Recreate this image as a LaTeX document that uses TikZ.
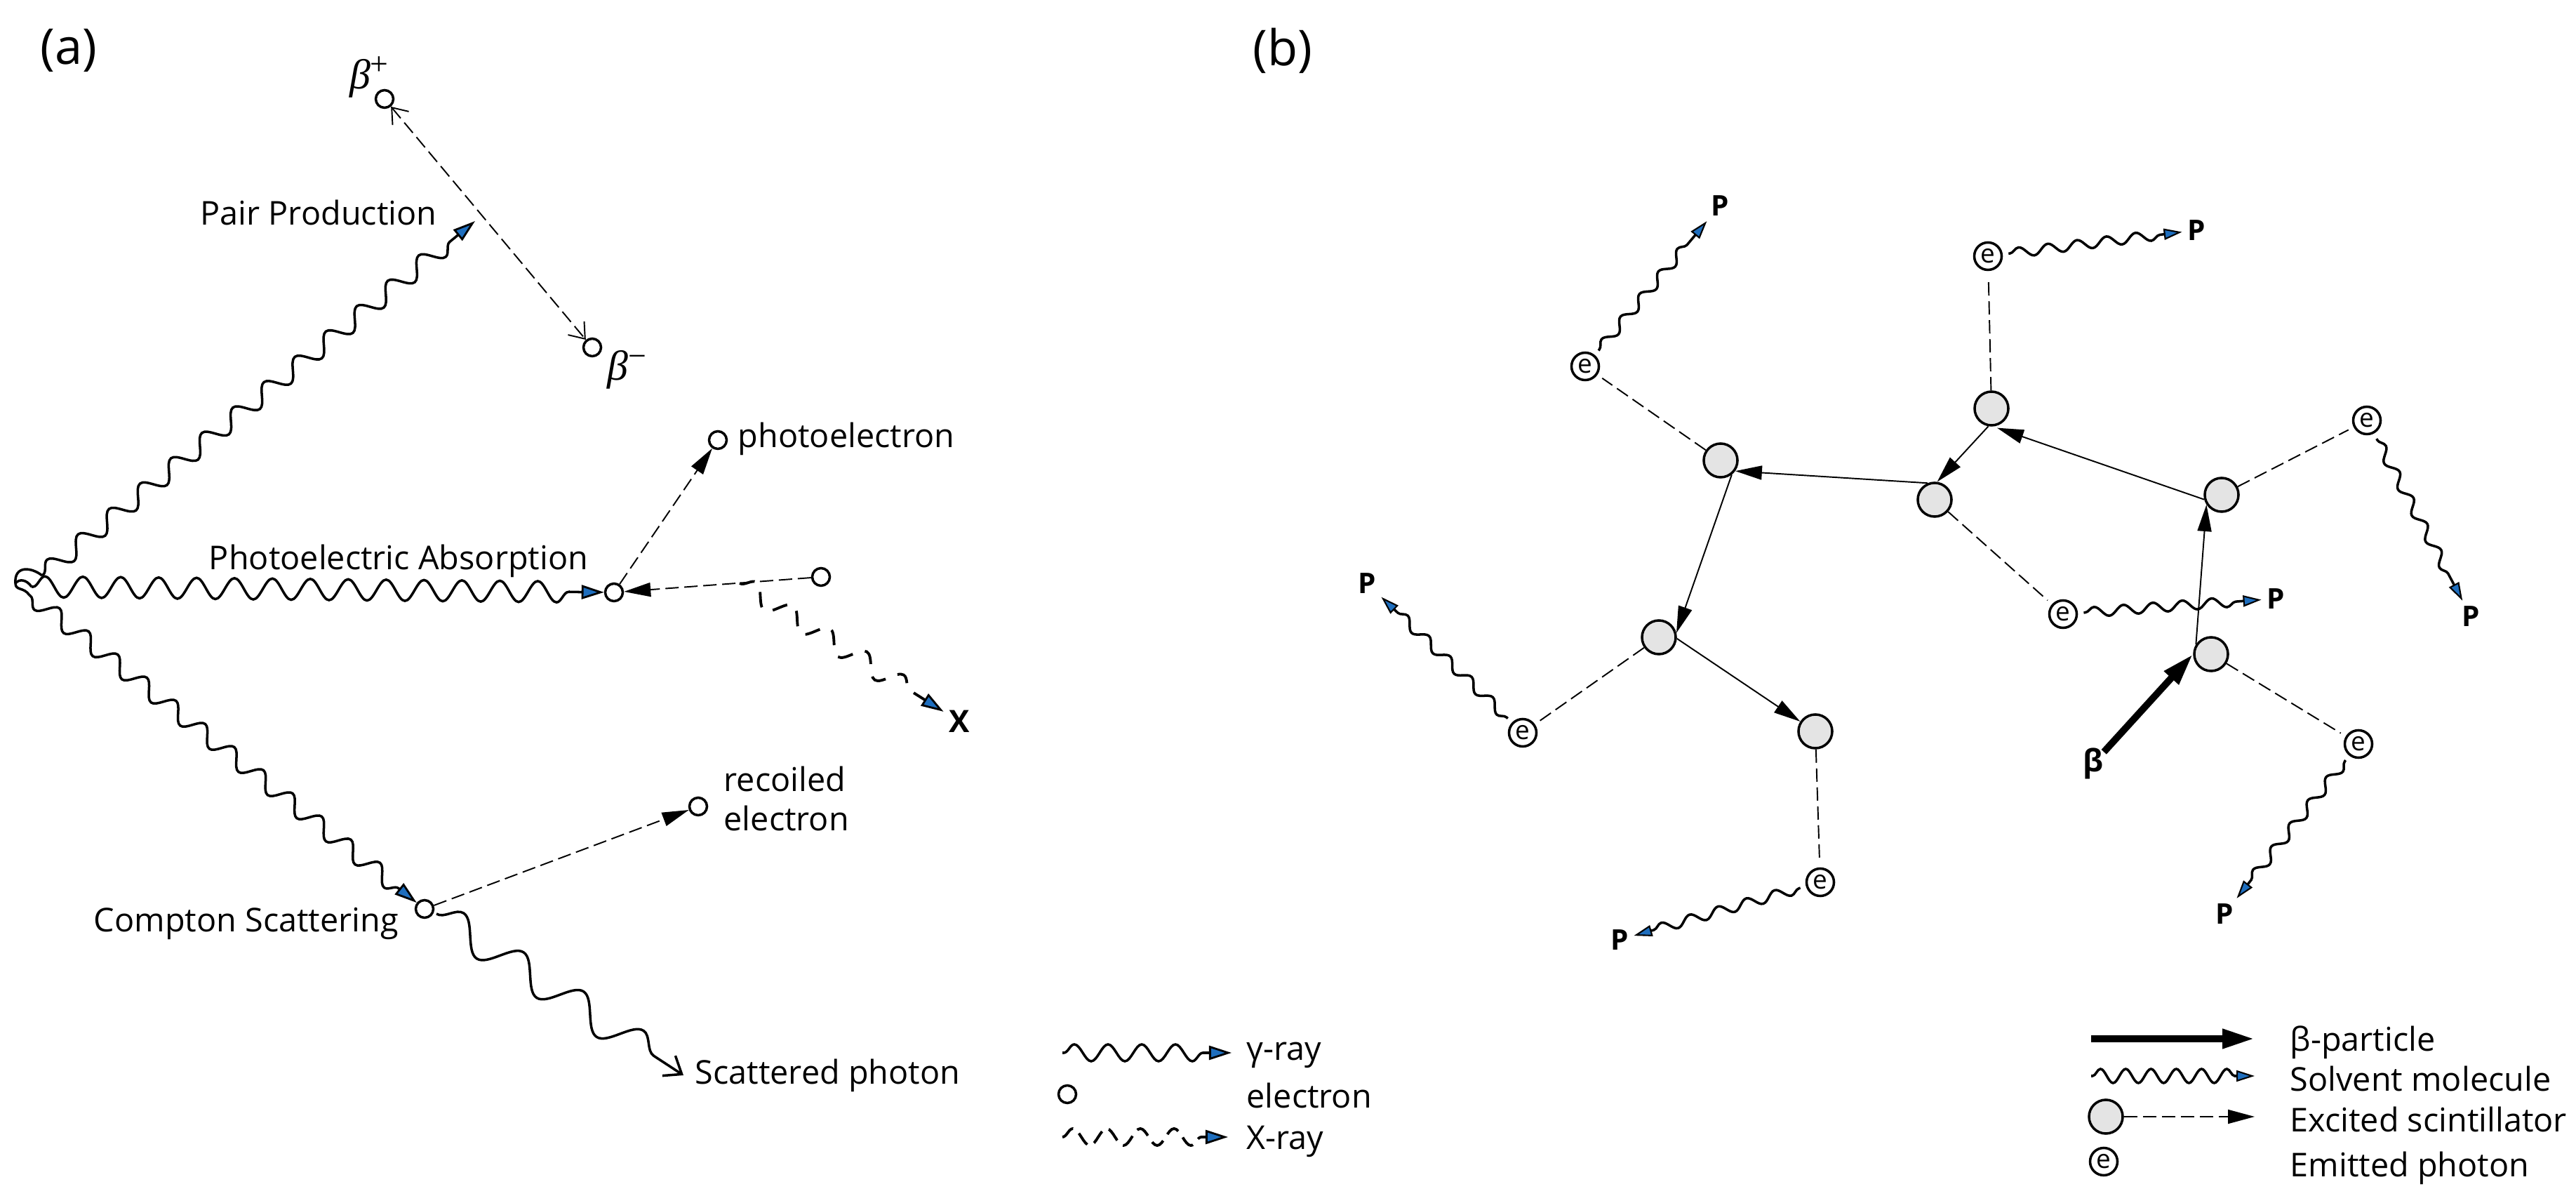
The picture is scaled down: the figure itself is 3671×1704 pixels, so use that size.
\documentclass[tikz,border=0pt]{standalone}
\usepackage{fontspec}
\setmainfont{Open Sans}
\newfontfamily\betafont{Liberation Serif}
\usetikzlibrary{arrows.meta,decorations.pathmorphing}
\definecolor{tipblue}{RGB}{30,110,190}
\definecolor{scintgray}{RGB}{228,228,228}
\newcommand{\thickness}{1pt}
\newcommand{\thinline}{0.55pt}
\tikzset{
  txt/.style={font=\fontsize{13.3}{16}\selectfont,inner sep=0pt},
  txtb/.style={font=\fontsize{20}{24}\selectfont,inner sep=0pt},
  betal/.style={font=\fontsize{17}{20}\betafont\itshape,inner sep=0pt},
  plabel/.style={font=\fontsize{11.5}{13}\selectfont\bfseries,inner sep=2pt},
  elec/.style={circle,draw,line width=\thickness,minimum size=0.25cm,inner sep=0pt},
  scint/.style={circle,draw,line width=\thickness,fill=scintgray,minimum size=0.48cm,inner sep=0pt},
  ephot/.style={circle,draw,line width=\thickness,minimum size=0.39cm,inner sep=0pt,outer sep=0.1cm,font=\fontsize{10.5}{12}\selectfont},
  bluetip/.style={-{Triangle[length=0.32cm,width=0.2cm,line width=0.8pt,fill=tipblue]}},
  smalltip/.style={-{Triangle[length=0.26cm,width=0.16cm,line width=0.6pt,fill=tipblue]}},
  blacktip/.style={-{Triangle[length=0.38cm,width=0.2cm]}},
  bigtip/.style={-{Triangle[length=0.46cm,width=0.26cm]}},
  barbs/.style={{Straight Barb[length=0.2cm,width=0.3cm]}-{Straight Barb[length=0.2cm,width=0.3cm]}},
  wavy/.style n args={2}{decorate,line width=\thickness,decoration={snake,segment length=#1,amplitude=#2,post length=0.26cm,pre length=0.02cm}},
  dashline/.style={line width=\thinline,dash pattern=on 0.19cm off 0.08cm}
}
\begin{document}
\begin{tikzpicture}[x=0.01cm,y=-0.01cm]
\useasboundingbox (0,0) rectangle (3671,1704);
\node[txtb] (a) at (98,72) {(a)};
\node[txtb] (b) at (1828,72) {(b)};
%source
\coordinate (src) at (22,831);
\coordinate (us) at (60,820);
\coordinate (ut) at (677,315);
\coordinate (ms) at (45,836);
\coordinate (ls) at (42,848);
\draw[line width=\thickness] (us) .. controls (45,808) and (20,805) .. (src) .. controls (22,842) and (34,836) .. (ls);
\draw[line width=\thickness] (src) .. controls (28,824) and (38,826) .. (ms);
%pair production
\node[elec] (bp) at (548,141) {};
\node[elec] (bm) at (844,495) {};
\node[betal] (bpt) at (526,110) {β\raisebox{0.32em}{\fontsize{13}{15}\upshape +}};
\node[betal] (bmt) at (893,527) {β\raisebox{0.32em}{\fontsize{13}{15}\upshape −}};
\node[txt] (pp) at (454,303) {Pair Production};
\draw[wavy={0.57cm}{0.13cm},bluetip] (us) -- (ut);
\draw[dashline,barbs] (bp) -- (bm);
%photoelectric
\node[elec] (pa) at (875,844) {};
\node[elec] (ph) at (1023,627) {};
\node[elec] (au) at (1170,822) {};
\coordinate (xs) at (1054,831);
\node[plabel,font=\fontsize{12.5}{14}\selectfont\bfseries] (xl) at (1367,1028) {X};
\node[txt] (pat) at (568,799) {Photoelectric Absorption};
\node[txt] (pht) at (1206,625) {photoelectron};
\draw[wavy={0.54cm}{0.15cm},bluetip] (ms) -- (pa);
\draw[dashline,blacktip] (pa) -- (ph);
\draw[dashline,blacktip] (au) -- (pa);
\draw[line width=1.1pt,dash pattern=on 0.22cm off 0.18cm,decorate,decoration={snake,segment length=0.62cm,amplitude=0.14cm,post length=0.26cm},bluetip] (xs) -- (xl);
%compton
\node[elec] (co) at (605,1295) {};
\node[elec] (re) at (995,1149) {};
\node[txt] (cot) at (351,1316) {Compton Scattering};
\node[txt,anchor=west,align=left] (ret) at (1031,1138) {recoiled\\electron};
\node[txt,anchor=west,inner xsep=0.16cm] (sc) at (974,1532) {Scattered photon};
\coordinate (ss) at (622,1302);
\draw[wavy={0.53cm}{-0.12cm},bluetip] (ls) -- (co);
\draw[dashline,blacktip] (co) -- (re);
\draw[decorate,line width=\thickness,decoration={snake,segment length=1.02cm,amplitude=0.22cm,post length=0.3cm},-{Straight Barb[length=0.22cm,width=0.34cm]}] (ss) -- (sc.west);
%legend a
\coordinate (la1) at (1514,1500);
\coordinate (la2) at (1755,1500);
\coordinate (la3) at (1514,1620);
\coordinate (la4) at (1750,1620);
\node[elec] (la5) at (1521,1559) {};
\draw[wavy={0.48cm}{0.12cm},bluetip] (la1) -- (la2);
\draw[line width=1.1pt,dash pattern=on 0.2cm off 0.11cm,decorate,decoration={snake,segment length=0.48cm,amplitude=0.12cm,post length=0.26cm},bluetip] (la3) -- (la4);
\node[txt,anchor=west] (lt1) at (1776,1503) {γ-ray};
\node[txt,anchor=west] (lt2) at (1776,1561) {electron};
\node[txt,anchor=west] (lt3) at (1776,1626) {X-ray};
%scintillators
\node[scint] (s1) at (2452,656) {};
\node[scint] (s2) at (2838,582) {};
\node[scint] (s3) at (2757,712) {};
\node[scint] (s4) at (3166,705) {};
\node[scint] (s5) at (3151,932) {};
\node[scint] (s6) at (2364,908) {};
\node[scint] (s7) at (2587,1042) {};
%emitted photons
\node[ephot] (e1) at (2259,522) {e};
\node[ephot] (e2) at (2833,365) {e};
\node[ephot] (e3) at (3373,599) {e};
\node[ephot] (e4) at (2940,875) {e};
\node[ephot] (e5) at (3361,1060) {e};
\node[ephot] (e6) at (2594,1257) {e};
\node[ephot] (e7) at (2170,1044) {e};
\node[plabel] (p1) at (2451,293) {P};
\node[plabel] (p2) at (3130,328) {P};
\node[plabel] (p3) at (3521,878) {P};
\node[plabel] (p4) at (3243,853) {P};
\node[plabel] (p5) at (3170,1302) {P};
\node[plabel] (p6) at (2308,1339) {P};
\node[plabel] (p7) at (1948,831) {P};
\node[font=\fontsize{12.5}{14}\selectfont\bfseries,inner sep=0pt] (bt) at (2983,1088) {β};
%energy transfer
\draw[line width=\thinline,blacktip] (s5.147) -- (s4.213);
\draw[line width=\thinline,blacktip,shorten >=0.06cm] (s4.195) -- (s2.275);
\draw[line width=\thinline,blacktip] (s2.260) -- (s3.82);
\draw[line width=\thinline,blacktip] (s3.113) -- (s1.-36);
\draw[line width=\thinline,blacktip] (s1.-52) -- (s6.14);
\draw[line width=\thinline,blacktip] (s6.-4) -- (s7.147);
\draw[line width=2.8pt,bigtip] (bt) -- (s5.west);
\draw[dashline] (s1) -- (e1);
\draw[dashline] (s2) -- (e2);
\draw[dashline] (s4) -- (e3);
\draw[dashline] (s3) -- (e4);
\draw[dashline] (s5) -- (e5);
\draw[dashline] (s7) -- (e6);
\draw[dashline] (s6) -- (e7);
\draw[wavy={0.42cm}{0.07cm},smalltip] (e1) -- (p1);
\draw[wavy={0.42cm}{0.07cm},smalltip] (e2) -- (p2);
\draw[wavy={0.42cm}{0.07cm},smalltip] (e3) -- (p3);
\draw[wavy={0.42cm}{0.07cm},smalltip] (e4) -- (p4);
\draw[wavy={0.42cm}{0.07cm},smalltip] (e5) -- (p5);
\draw[wavy={0.42cm}{0.07cm},smalltip] (e6) -- (p6);
\draw[wavy={0.42cm}{0.07cm},smalltip] (e7) -- (p7);
%legend b
\coordinate (lb1) at (2980,1480);
\coordinate (lb2) at (3213,1480);
\coordinate (lb3) at (2980,1533);
\coordinate (lb4) at (3213,1533);
\coordinate (lb6) at (3213,1591);
\node[scint] (lb5) at (3001,1591) {};
\node[ephot] (lb7) at (2998,1655) {e};
\draw[line width=2.8pt,bigtip] (lb1) -- (lb2);
\draw[wavy={0.36cm}{0.1cm},smalltip] (lb3) -- (lb4);
\draw[dashline,blacktip] (lb5) -- (lb6);
\node[txt,anchor=west] (lt4) at (3263,1485) {β-particle};
\node[txt,anchor=west] (lt5) at (3263,1537) {Solvent molecule};
\node[txt,anchor=west] (lt6) at (3263,1595) {Excited scintillator};
\node[txt,anchor=west] (lt7) at (3263,1664) {Emitted photon};
\end{tikzpicture}
\end{document}
